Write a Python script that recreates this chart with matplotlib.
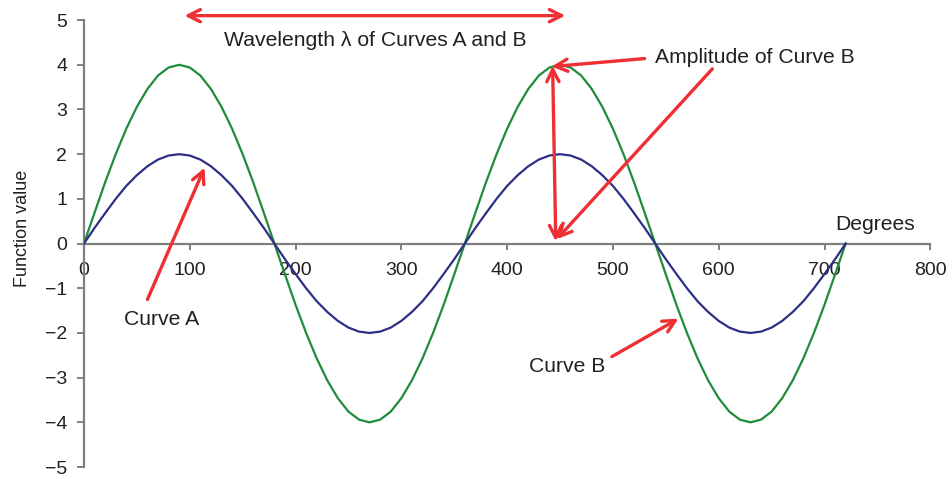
import matplotlib
matplotlib.use("Agg")
import matplotlib.pyplot as plt

plt.rcParams['font.family'] = ['Liberation Sans', 'DejaVu Sans']

# angle in degrees, sampled every 10 degrees over two full cycles
degrees = list(range(0, 721, 10))

curve_a = [
    0, 0.35, 0.68, 1.00, 1.29, 1.53, 1.73, 1.88, 1.97, 2.00, 1.97, 1.88, 1.73, 1.53, 1.29, 1.00, 0.68, 0.35,
    0, -0.35, -0.68, -1.00, -1.29, -1.53, -1.73, -1.88, -1.97, -2.00, -1.97, -1.88, -1.73, -1.53, -1.29, -1.00, -0.68, -0.35,
    0, 0.35, 0.68, 1.00, 1.29, 1.53, 1.73, 1.88, 1.97, 2.00, 1.97, 1.88, 1.73, 1.53, 1.29, 1.00, 0.68, 0.35,
    0, -0.35, -0.68, -1.00, -1.29, -1.53, -1.73, -1.88, -1.97, -2.00, -1.97, -1.88, -1.73, -1.53, -1.29, -1.00, -0.68, -0.35,
    0,
]
curve_b = [
    0, 0.69, 1.37, 2.00, 2.57, 3.06, 3.46, 3.76, 3.94, 4.00, 3.94, 3.76, 3.46, 3.06, 2.57, 2.00, 1.37, 0.69,
    0, -0.69, -1.37, -2.00, -2.57, -3.06, -3.46, -3.76, -3.94, -4.00, -3.94, -3.76, -3.46, -3.06, -2.57, -2.00, -1.37, -0.69,
    0, 0.69, 1.37, 2.00, 2.57, 3.06, 3.46, 3.76, 3.94, 4.00, 3.94, 3.76, 3.46, 3.06, 2.57, 2.00, 1.37, 0.69,
    0, -0.69, -1.37, -2.00, -2.57, -3.06, -3.46, -3.76, -3.94, -4.00, -3.94, -3.76, -3.46, -3.06, -2.57, -2.00, -1.37, -0.69,
    0,
]

x_ticks = [0, 100, 200, 300, 400, 500, 600, 700, 800]
y_ticks = [-5, -4, -3, -2, -1, 0, 1, 2, 3, 4, 5]

green = '#1f8c3a'
navy = '#2d2f85'
red = '#ee3035'
axis_gray = '#7f7f7f'
text_col = '#231f20'
label_size = 15.2

fig = plt.figure(figsize=(9.52, 4.79), dpi=100)
ax = fig.add_axes([0.0882, 0.025, 0.889, 0.933])

ax.plot(degrees, curve_b, color=green, lw=1.6, zorder=3)
ax.plot(degrees, curve_a, color=navy, lw=1.6, zorder=3)

ax.set_xlim(0, 800)
ax.set_ylim(-5, 5)
ax.set_xticks(x_ticks)
ax.set_yticks(y_ticks)

for s in ['top', 'right']:
    ax.spines[s].set_visible(False)
ax.spines['bottom'].set_position(('data', 0))
for s in ['left', 'bottom']:
    ax.spines[s].set_color(axis_gray)
    ax.spines[s].set_linewidth(1.6)
    ax.spines[s].set_zorder(2)

ax.tick_params(axis='x', direction='out', length=4, width=1.4, color=axis_gray,
               labelsize=14, labelcolor=text_col, pad=9)
ax.tick_params(axis='y', direction='out', length=5, width=1.4, color=axis_gray,
               labelsize=14, labelcolor=text_col, pad=7)

ax.set_ylabel('Function value', fontsize=13, color=text_col)
ax.yaxis.set_label_coords(-0.0625, 0.535)

arrow_kw = dict(arrowstyle='->', color=red, lw=2.4, mutation_scale=22,
                shrinkA=0, shrinkB=0)
dbl_kw = dict(arrowstyle='<->', color=red, lw=2.4, mutation_scale=22,
              shrinkA=0, shrinkB=0)

# wavelength marker between the two peaks
ax.annotate('', xy=(95, 5.1), xytext=(455, 5.1), arrowprops=dbl_kw,
            annotation_clip=False)
ax.text(275, 4.54, 'Wavelength \u03bb of Curves A and B', fontsize=label_size,
        color=text_col, ha='center', va='center')

# amplitude of curve B
ax.annotate('', xy=(443, 3.98), xytext=(446, 0.05), arrowprops=dbl_kw)
ax.annotate('', xy=(442, 3.96), xytext=(530, 4.14), arrowprops=arrow_kw)
ax.annotate('', xy=(447, 0.1), xytext=(594, 3.91), arrowprops=arrow_kw)
ax.text(540, 4.16, 'Amplitude of Curve B', fontsize=label_size, color=text_col,
        ha='left', va='center')

# curve labels
ax.annotate('', xy=(114, 1.7), xytext=(60, -1.25), arrowprops=arrow_kw)
ax.text(73, -1.7, 'Curve A', fontsize=label_size, color=text_col, ha='center', va='center')
ax.annotate('', xy=(562, -1.68), xytext=(499, -2.53), arrowprops=arrow_kw)
ax.text(457, -2.75, 'Curve B', fontsize=label_size, color=text_col, ha='center', va='center')

ax.text(748, 0.42, 'Degrees', fontsize=label_size, color=text_col, ha='center', va='center')

fig.savefig('out.png', dpi=100)
